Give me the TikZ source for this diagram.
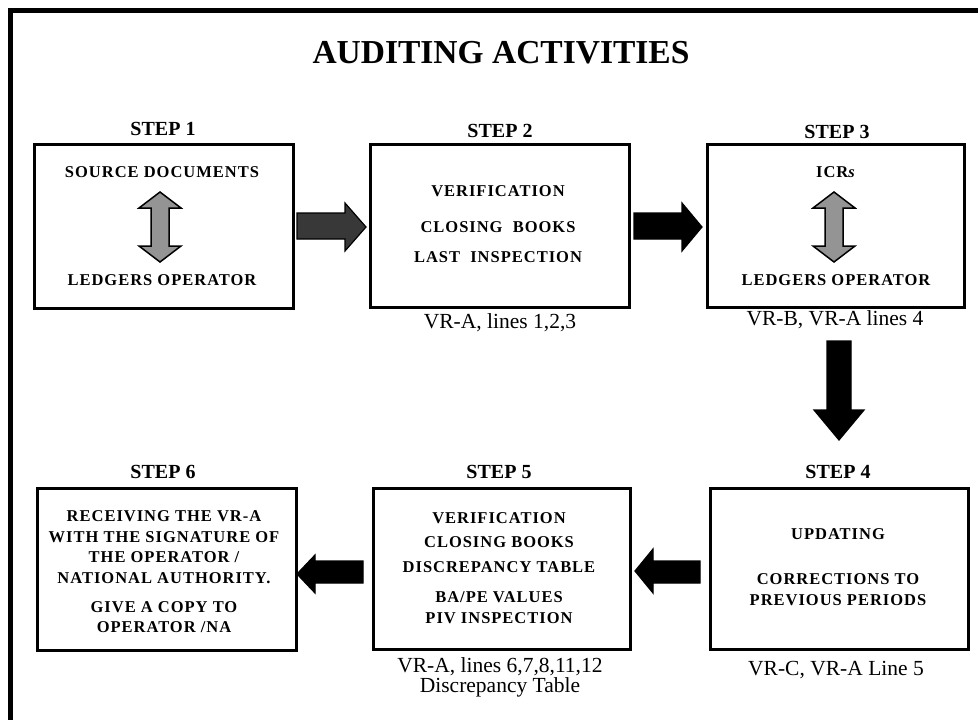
\documentclass[tikz,border=0pt]{standalone}
\usepackage{fontspec}
\setmainfont{Liberation Serif}
\newfontfamily\boxfont[LetterSpace=6]{Liberation Serif}
\begin{document}
\begin{tikzpicture}[x=1pt,y=-1pt,
  stepbox/.style={draw=black, line width=2.6pt, fill=white, anchor=north west, inner sep=0pt},
  boxtxt/.style={font=\boxfont\bfseries\fontsize{16.5}{20.7}\selectfont, align=center, inner sep=0pt},
  steplbl/.style={font=\bfseries\fontsize{20}{22}\selectfont, inner sep=0pt},
  reflbl/.style={font=\fontsize{21.5}{20}\selectfont, align=center, inner sep=0pt},
  blk/.style={draw=black, line width=1.2pt, fill=black},
  dblk/.style={draw=black, line width=1.2pt, fill=black!78},
  dbl/.style={draw=black, line width=1.5pt, fill=black!42}]
\useasboundingbox (0,0) rectangle (978,720);
\fill[white] (0,0) rectangle (978,720);
% frame
\draw[line width=5pt] (10.5,720) -- (10.5,10.5) -- (978,10.5);
% title
\node[font=\bfseries\fontsize{33.5}{34}\selectfont, inner sep=0pt] (title) at (501,53) {AUDITING ACTIVITIES};
% boxes
\node[stepbox, minimum width=259pt, minimum height=164pt] (b1) at (33,143) {};
\node[stepbox, minimum width=259pt, minimum height=163pt] (b2) at (369,143) {};
\node[stepbox, minimum width=257pt, minimum height=163pt] (b3) at (706,143) {};
\node[stepbox, minimum width=258pt, minimum height=161pt] (b4) at (709,487) {};
\node[stepbox, minimum width=257pt, minimum height=161pt] (b5) at (372,487) {};
\node[stepbox, minimum width=259pt, minimum height=162pt] (b6) at (36,487) {};
% step labels
\node[steplbl] (s1) at (163,129) {STEP 1};
\node[steplbl] (s2) at (500,131) {STEP 2};
\node[steplbl] (s3) at (837,132) {STEP 3};
\node[steplbl] (s4) at (838,472) {STEP 4};
\node[steplbl] (s5) at (499,472) {STEP 5};
\node[steplbl] (s6) at (163,472) {STEP 6};
% box texts
\node[boxtxt] (t1a) at (162,172) {SOURCE DOCUMENTS};
\node[boxtxt] (t1b) at (162,280) {LEDGERS OPERATOR};
\node[boxtxt] (t2a) at (498,191) {VERIFICATION};
\node[boxtxt] (t2b) at (498,227) {CLOSING\ \ BOOKS};
\node[boxtxt] (t2c) at (498,257) {LAST\ \ INSPECTION};
\node[boxtxt] (t3a) at (836,172) {ICR\textit{s}};
\node[boxtxt] (t3b) at (836,280) {LEDGERS OPERATOR};
\node[boxtxt] (t4a) at (838,534) {UPDATING};
\node[boxtxt] (t4b) at (838,590) {CORRECTIONS TO\\PREVIOUS PERIODS};
\node[boxtxt, font=\boxfont\bfseries\fontsize{16.5}{24.5}\selectfont] (t5a) at (499,542.5) {VERIFICATION\\CLOSING BOOKS\\DISCREPANCY TABLE};
\node[boxtxt] (t5b) at (499,607.5) {BA/PE VALUES\\PIV INSPECTION};
\node[boxtxt] (t6a) at (164,547) {RECEIVING THE VR-A\\WITH THE SIGNATURE OF\\THE OPERATOR /\\NATIONAL AUTHORITY.};
\node[boxtxt] (t6b) at (164,617) {GIVE A COPY TO\\OPERATOR /NA};
% reference labels
\node[reflbl] (r2) at (500,323) {VR-A, lines 1,2,3};
\node[reflbl] (r3) at (835,320) {VR-B, VR-A lines 4};
\node[reflbl] (r4) at (836,670) {VR-C, VR-A Line 5};
\node[reflbl] (r5) at (500,677) {VR-A, lines 6,7,8,11,12\\Discrepancy Table};
% double arrows inside boxes 1 and 3
\foreach \cx in {160,834}{
  \filldraw[dbl] (\cx,192) -- (\cx+21,208) -- (\cx+9,208) -- (\cx+9,246) -- (\cx+21,246)
    -- (\cx,262) -- (\cx-21,246) -- (\cx-9,246) -- (\cx-9,208) -- (\cx-21,208) -- cycle;
}
% block arrows
% 1 -> 2
\filldraw[dblk] (297,213) -- (345,213) -- (345,203) -- (366,227) -- (345,251) -- (345,239) -- (297,239) -- cycle;
% 2 -> 3
\filldraw[blk] (634,213) -- (682,213) -- (682,203) -- (702,227) -- (682,251) -- (682,239) -- (634,239) -- cycle;
% 3 -> 4
\filldraw[blk] (827,341) -- (851,341) -- (851,410) -- (864,410) -- (839,440) -- (814,410) -- (827,410) -- cycle;
% 4 -> 5
\filldraw[blk] (700,561) -- (653,561) -- (653,549) -- (635,571) -- (653,593) -- (653,583) -- (700,583) -- cycle;
% 5 -> 6
\filldraw[blk] (363,561) -- (315,561) -- (315,555) -- (297,574) -- (315,593) -- (315,583) -- (363,583) -- cycle;
\end{tikzpicture}
\end{document}
